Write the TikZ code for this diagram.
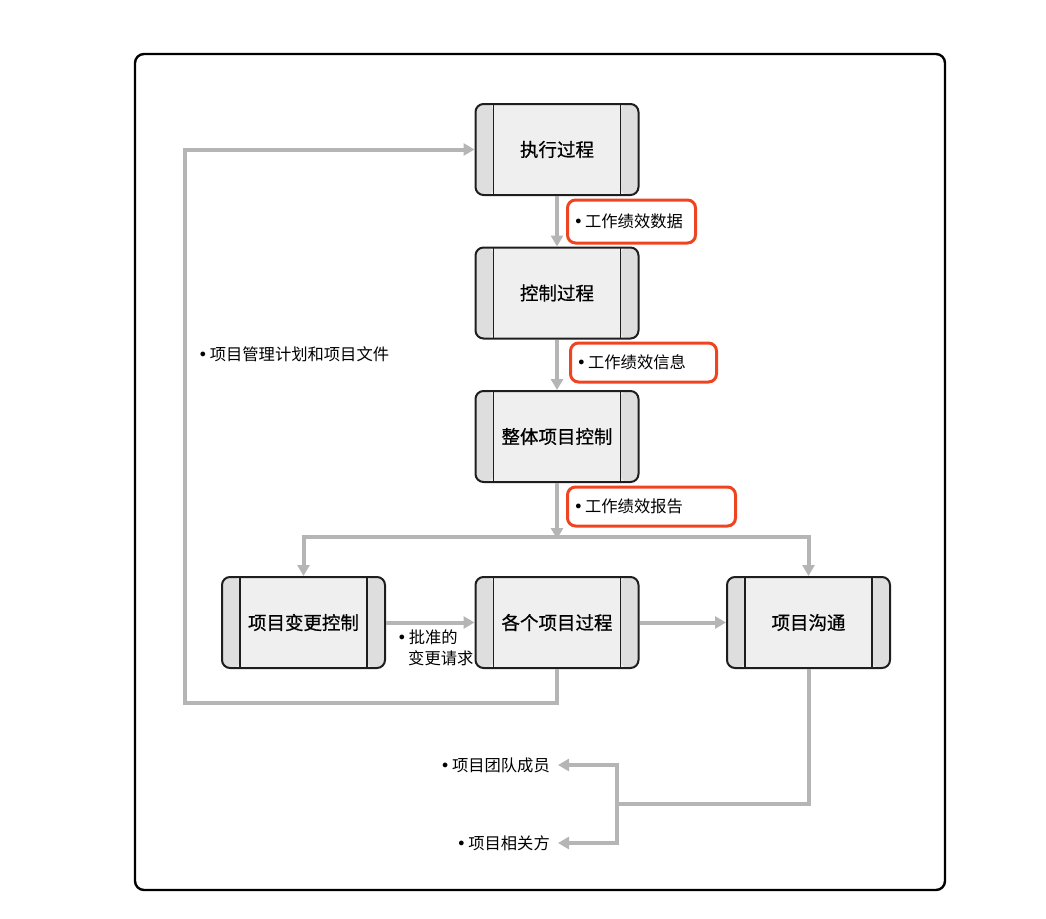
\documentclass[tikz,border=0pt]{standalone}
\usepackage{fontspec}
\setmainfont{Noto Sans CJK SC}
\newfontfamily\boxfont{Noto Sans CJK SC}[FakeBold=0.6]
\newfontfamily\bulfont{DejaVu Sans}
\newcommand{\bul}{{\bulfont •}\hspace{2pt}}
\usetikzlibrary{arrows.meta}
\definecolor{flowgray}{HTML}{B5B5B5}
\definecolor{boxfill}{HTML}{EFEFEF}
\definecolor{sidefill}{HTML}{DEDEDE}
\definecolor{boxline}{HTML}{1E1E1E}
\definecolor{hlred}{HTML}{EE4422}
\tikzset{
  procbox/.style={draw=boxline, line width=2pt, rounded corners=8pt, fill=boxfill,
    minimum width=163pt, minimum height=91pt, inner sep=0pt,
    font=\boxfont\fontsize{18.5}{22}\selectfont,
    path picture={
      \fill[sidefill] (path picture bounding box.north west) rectangle ([xshift=18pt]path picture bounding box.south west);
      \fill[sidefill] (path picture bounding box.north east) rectangle ([xshift=-18pt]path picture bounding box.south east);
      \draw[boxline, line width=1.5pt] ([xshift=18pt]path picture bounding box.north west) -- ([xshift=18pt]path picture bounding box.south west);
      \draw[boxline, line width=1.5pt] ([xshift=-18pt]path picture bounding box.north east) -- ([xshift=-18pt]path picture bounding box.south east);
    }},
  hlbox/.style={draw=hlred, line width=3pt, rounded corners=8pt, anchor=west,
    inner xsep=6pt, inner ysep=0pt, align=left, font=\fontsize{16.3}{19}\selectfont},
  lab/.style={inner sep=0pt, font=\fontsize{16.3}{20.5}\selectfont, align=left},
  flow/.style={draw=flowgray, line width=4pt, -{Triangle[length=11pt,width=12pt]}},
  plain/.style={draw=flowgray, line width=4pt},
}
\begin{document}
\begin{tikzpicture}[x=1pt,y=-1pt]
\useasboundingbox (0,0) rectangle (1046,918);
\draw[line width=2.4pt, rounded corners=9pt] (135,54) rectangle (945,890);

% process boxes
\node[procbox] (exec)   at (557,149.5) {执行过程};
\node[procbox] (ctrl)   at (557,293)   {控制过程};
\node[procbox] (whole)  at (557,436.5) {整体项目控制};
\node[procbox] (change) at (303.5,622.5) {项目变更控制};
\node[procbox] (proc)   at (557,622.5) {各个项目过程};
\node[procbox] (comm)   at (808.5,622.5) {项目沟通};

% coordinates
\coordinate (split) at (557,537);
\coordinate (fbL) at (185,703);
\coordinate (j2) at (617,804);

% highlighted labels
\node[hlbox, text width=116pt, minimum height=43pt] (l1) at (566,221.5) {\bul 工作绩效数据};
\node[hlbox, text width=134pt, minimum height=39pt] (l2) at (569,362.5) {\bul 工作绩效信息};
\node[hlbox, text width=156pt, minimum height=39pt] (l3) at (566,506.5) {\bul 工作绩效报告};

% other labels
\node[lab, anchor=west] (plan) at (198,354) {\bul 项目管理计划和项目文件};
\node[lab, anchor=north west] (appr) at (397,630) {\bul 批准的\\\hspace*{11pt}变更请求};
\node[lab, anchor=east, inner xsep=8pt] (team) at (558,765) {\bul 项目团队成员};
\node[lab, anchor=east, inner xsep=8pt] (stake) at (558,843) {\bul 项目相关方};

% connectors
\draw[flow] (exec.south) -- (ctrl.north);
\draw[flow] (ctrl.south) -- (whole.north);
\draw[plain] (split -| change.north) -- (split -| comm.north);
\draw[flow] (whole.south) -- ([yshift=-2pt]split);
\draw[flow] (split) -| (change.north);
\draw[flow] (split) -| (comm.north);
\draw[flow] (change.east) -- (proc.west);
\draw[flow] (proc.east) -- (comm.west);
\draw[flow] (proc.south) |- (fbL) |- (exec.west);
\draw[plain] (comm.south) |- (j2);
\draw[flow] (j2) |- (team.east);
\draw[flow] (j2) |- (stake.east);
\end{tikzpicture}
\end{document}
